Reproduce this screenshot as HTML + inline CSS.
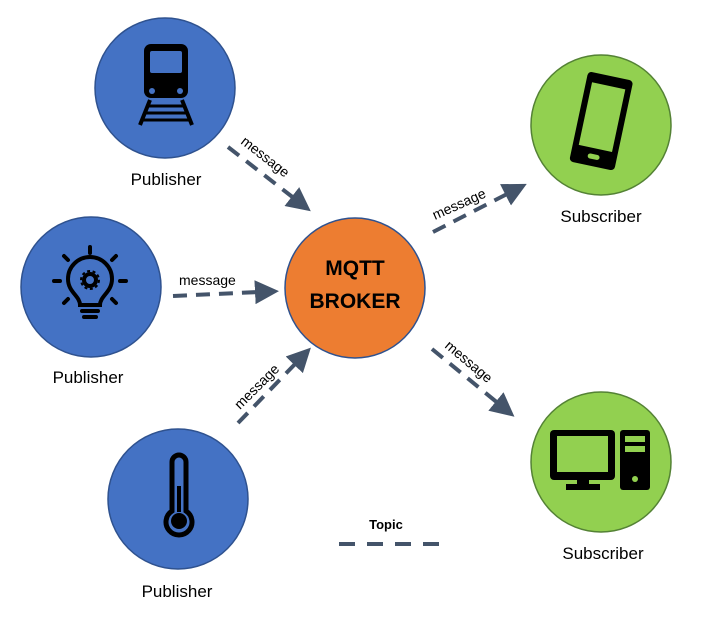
<!DOCTYPE html>
<html><head><meta charset="utf-8"><style>
html,body{margin:0;padding:0;background:#fff}
svg{display:block}
text{font-family:"Liberation Sans",sans-serif}
</style></head><body>
<svg width="706" height="624" viewBox="0 0 706 624" xmlns="http://www.w3.org/2000/svg">
<defs>
<marker id="ah" markerWidth="6" markerHeight="6" refX="1" refY="3" orient="auto" markerUnits="strokeWidth">
<path d="M0,0 L6,3 L0,6 Z" fill="#44546A"/>
</marker>
</defs>
<!-- circles -->
<circle cx="165" cy="88" r="70" fill="#4472C4" stroke="#2F528F" stroke-width="1.5"/>
<circle cx="91" cy="287" r="70" fill="#4472C4" stroke="#2F528F" stroke-width="1.5"/>
<circle cx="178" cy="499" r="70" fill="#4472C4" stroke="#2F528F" stroke-width="1.5"/>
<circle cx="355" cy="288" r="70" fill="#ED7D31" stroke="#2F528F" stroke-width="1.5"/>
<circle cx="601" cy="125" r="70" fill="#92D050" stroke="#548235" stroke-width="1.5"/>
<circle cx="601" cy="462" r="70" fill="#92D050" stroke="#548235" stroke-width="1.5"/>

<!-- train -->
<rect x="144" y="44" width="44" height="54" rx="7" fill="#000"/>
<rect x="150" y="51" width="32" height="22" rx="2" fill="#4472C4"/>
<circle cx="152" cy="91" r="3" fill="#4472C4"/>
<circle cx="180" cy="91" r="3" fill="#4472C4"/>
<path d="M150,100 L140,125 M182,100 L192,125" stroke="#000" stroke-width="4"/>
<path d="M148,106 H184 M146,113 H186 M143,120 H189" stroke="#000" stroke-width="3"/>

<!-- bulb -->
<g stroke="#000" stroke-width="4" fill="none" stroke-linecap="round">
<path d="M80,305 C80,296 68,292 68,279 A22,22 0 1 1 112,279 C112,292 100,296 100,305 Z"/>
<path d="M82,311 H98 M84,317 H96"/>
<path d="M90,247 V253 M64,256 L68,260 M116,256 L112,260 M54,281 H60 M120,281 H126 M64,303 L68,299 M116,303 L112,299"/>
</g>
<circle cx="90" cy="280" r="6" fill="none" stroke="#000" stroke-width="4"/>
<circle cx="90" cy="280" r="9" fill="none" stroke="#000" stroke-width="2" stroke-dasharray="3 2.6"/>

<!-- thermometer -->
<path d="M172,462 A7,7 0 0 1 186,462 V511 A13,13 0 1 1 172,511 Z" fill="none" stroke="#000" stroke-width="5"/>
<rect x="177" y="486" width="4" height="26" fill="#000"/>
<circle cx="179" cy="521" r="8" fill="#000"/>

<!-- phone -->
<g transform="rotate(12 601 122)">
<rect x="578" y="75" width="46" height="92" rx="4" fill="#000"/>
<rect x="584" y="85" width="34" height="64" fill="#92D050"/>
<rect x="595" y="155" width="12" height="5" rx="2.5" fill="#92D050"/>
</g>

<!-- computer -->
<rect x="550" y="430" width="65" height="50" rx="4" fill="#000"/>
<rect x="557" y="436" width="51" height="36" fill="#92D050"/>
<rect x="577" y="478" width="12" height="8" fill="#000"/>
<rect x="566" y="484" width="34" height="6" fill="#000"/>
<rect x="620" y="430" width="30" height="60" rx="3" fill="#000"/>
<rect x="625" y="436" width="20" height="6" fill="#92D050"/>
<rect x="625" y="446" width="20" height="6" fill="#92D050"/>
<circle cx="635" cy="479" r="3" fill="#92D050"/>

<!-- broker text -->
<text x="355" y="275" text-anchor="middle" font-size="21" font-weight="bold">MQTT</text>
<text x="355" y="308" text-anchor="middle" font-size="21" font-weight="bold">BROKER</text>

<!-- labels -->
<g font-size="17" text-anchor="middle">
<text x="166" y="185">Publisher</text>
<text x="88" y="383">Publisher</text>
<text x="177" y="597">Publisher</text>
<text x="601" y="222">Subscriber</text>
<text x="603" y="559">Subscriber</text>
</g>

<!-- arrows -->
<g stroke="#44546A" stroke-width="4" stroke-dasharray="14 9" fill="none">
<line x1="228" y1="147" x2="295" y2="199" marker-end="url(#ah)"/>
<line x1="173" y1="296" x2="259" y2="292" marker-end="url(#ah)"/>
<line x1="238" y1="423" x2="297" y2="362" marker-end="url(#ah)"/>
<line x1="433" y1="232" x2="509" y2="193" marker-end="url(#ah)"/>
<line x1="432" y1="349" x2="499" y2="404" marker-end="url(#ah)"/>
<line x1="339" y1="544" x2="440" y2="544" stroke-dasharray="16 12"/>
</g>

<g font-size="14">
<text x="0" y="0" transform="translate(240,143) rotate(38)">message</text>
<text x="179" y="285">message</text>
<text x="0" y="0" transform="translate(240,410) rotate(-45)">message</text>
<text x="0" y="0" transform="translate(435,220) rotate(-24)">message</text>
<text x="0" y="0" transform="translate(444,347) rotate(40)">message</text>
</g>
<text x="386" y="529" text-anchor="middle" font-size="13" font-weight="bold">Topic</text>
</svg>
</body></html>
